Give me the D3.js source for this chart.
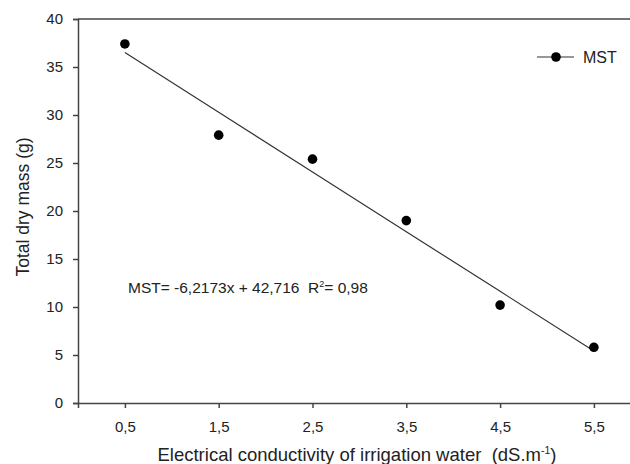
<!DOCTYPE html>
<html>
<head>
<meta charset="utf-8">
<script src="https://cdn.jsdelivr.net/npm/d3@7"></script>
<style>
  body { margin: 0; background: #fff; }
  svg { display: block; font-family: "Liberation Sans", Arial, sans-serif; }
  text { white-space: pre; }
</style>
</head>
<body>
<svg id="chart" width="630" height="464"></svg>
<script>
// data
var ecLevels = [0.5, 1.5, 2.5, 3.5, 4.5, 5.5];
var dryMass = [37.4, 27.9, 25.4, 19.0, 10.2, 5.8];
var xTicks = [0.5, 1.5, 2.5, 3.5, 4.5, 5.5];
var yTicks = [0, 5, 10, 15, 20, 25, 30, 35, 40];
var slope = -6.2173, intercept = 42.716; // fitted on treatment index 1..6

var svg = d3.select("#chart");
var plotLeft = 78, plotTop = 19, plotBottom = 403;

var x = d3.scaleLinear().domain([0, 6]).range([plotLeft, plotLeft + 6 * 93.8]);
var y = d3.scaleLinear().domain([0, 40]).range([plotBottom, plotTop]);

var fmt = function(d) { return String(d).replace(".", ","); };

// frame top line
svg.append("line")
    .attr("x1", plotLeft).attr("x2", 630)
    .attr("y1", plotTop).attr("y2", plotTop)
    .attr("stroke", "#444").attr("stroke-width", 1.5);

var gy = svg.append("g")
    .attr("transform", "translate(" + plotLeft + ",0)")
    .call(d3.axisLeft(y).tickValues(yTicks).tickSizeOuter(0).tickSize(5).tickPadding(10));

var gx = svg.append("g")
    .attr("transform", "translate(0," + plotBottom + ")")
    .call(d3.axisBottom(x).tickValues(xTicks).tickFormat(fmt).tickSizeOuter(0).tickSize(5).tickPadding(13));

[gx, gy].forEach(function(g) {
    g.selectAll("path, line").attr("stroke", "#444").attr("stroke-width", 1.5);
    g.selectAll("text").attr("font-size", 15).attr("fill", "#222")
        .style("font-family", "'Liberation Sans', Arial, sans-serif");
});

// regression line
var fit = ecLevels.map(function(d, i) { return [d, slope * (i + 1) + intercept]; });
svg.append("path")
    .datum(fit)
    .attr("d", d3.line().x(function(d) { return x(d[0]); }).y(function(d) { return y(d[1]); }))
    .attr("fill", "none").attr("stroke", "#333").attr("stroke-width", 1.2);

// points
svg.selectAll("circle.pt")
    .data(ecLevels)
    .enter().append("circle")
    .attr("class", "pt")
    .attr("cx", function(d) { return x(d); })
    .attr("cy", function(d, i) { return y(dryMass[i]); })
    .attr("r", 4.8)
    .attr("fill", "#000");

// legend
var lg = svg.append("g").attr("transform", "translate(537,57)");
lg.append("line").attr("x1", 0).attr("x2", 37).attr("stroke", "#333").attr("stroke-width", 1.2);
lg.append("circle").attr("cx", 19).attr("r", 4.8).attr("fill", "#000");
lg.append("text").attr("x", 46).attr("y", 6).attr("font-size", 16).attr("fill", "#222").text("MST");

// equation
var eq = svg.append("text").attr("x", 128).attr("y", 293).attr("font-size", 15.5).attr("fill", "#222");
eq.append("tspan").text("MST= -6,2173x + 42,716  R");
eq.append("tspan").attr("font-size", 9).attr("dy", -6).text("2");
eq.append("tspan").attr("dy", 6).text("= 0,98");

// axis titles
var xt = svg.append("text")
    .attr("x", 357).attr("y", 461).attr("text-anchor", "middle")
    .attr("font-size", 18.5).attr("fill", "#222");
xt.append("tspan").text("Electrical conductivity of irrigation water  (dS.m");
xt.append("tspan").attr("font-size", 10.5).attr("dy", -7).text("-1");
xt.append("tspan").attr("dy", 7).text(")");

svg.append("text")
    .attr("transform", "translate(29,207) rotate(-90)")
    .attr("text-anchor", "middle")
    .attr("font-size", 17.5).attr("fill", "#222")
    .text("Total dry mass (g)");
</script>
</body>
</html>
